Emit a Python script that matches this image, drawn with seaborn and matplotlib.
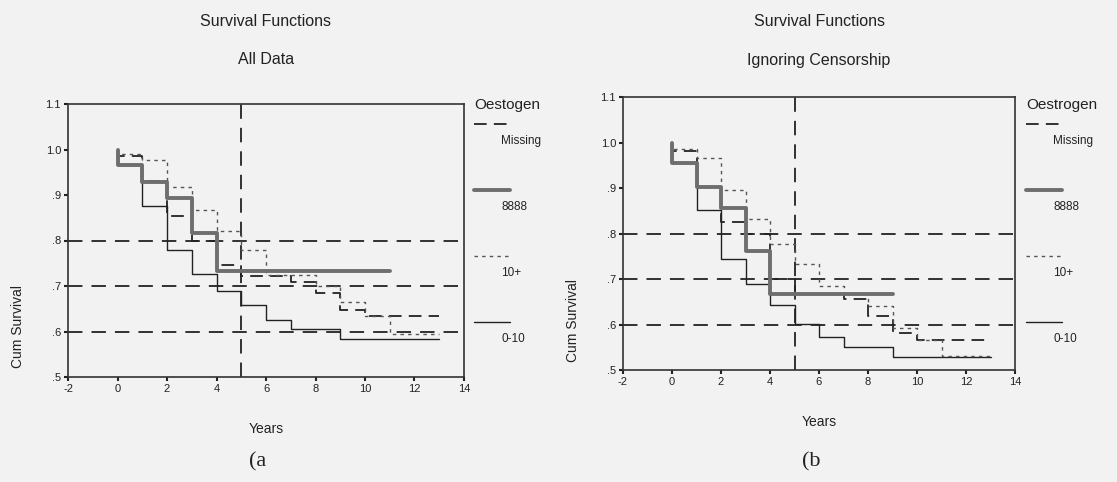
import matplotlib
matplotlib.use("Agg")
import matplotlib.pyplot as plt
import seaborn as sns
import pandas as pd
from matplotlib.lines import Line2D

# ---------------- data ----------------
groups = ["Missing", "8888", "10+", "0-10"]

# Panel (a): All Data
a_missing_t = [0, 0, 1, 2, 3, 4, 5, 7, 8, 9, 10, 13]
a_missing_s = [1.0, .985, .93, .854, .80, .747, .721, .709, .685, .648, .633, .633]
a_8888_t = [0, 0, 1, 2, 3, 4, 11]
a_8888_s = [1.0, .967, .928, .894, .817, .733, .733]
a_10p_t = [0, 0, 1, 2, 3, 4, 5, 6, 8, 9, 10, 11, 13]
a_10p_s = [1.0, .99, .977, .917, .866, .82, .78, .724, .70, .664, .634, .595, .595]
a_010_t = [0, 0, 1, 2, 3, 4, 5, 6, 7, 9, 13]
a_010_s = [1.0, .967, .876, .78, .727, .688, .659, .626, .606, .584, .584]

# Panel (b): Ignoring Censorship
b_missing_t = [0, 0, 1, 2, 3, 4, 5, 7, 8, 9, 10, 13]
b_missing_s = [1.0, .982, .902, .826, .80, .70, .667, .655, .619, .581, .567, .567]
b_8888_t = [0, 0, 1, 2, 3, 4, 9]
b_8888_s = [1.0, .954, .902, .855, .762, .667, .667]
b_10p_t = [0, 0, 1, 2, 3, 4, 5, 6, 7, 8, 9, 10, 11, 13]
b_10p_s = [1.0, .985, .967, .895, .831, .776, .732, .685, .668, .641, .592, .567, .530, .530]
b_010_t = [0, 0, 1, 2, 3, 4, 5, 6, 7, 9, 13]
b_010_s = [1.0, .954, .852, .745, .688, .643, .602, .572, .551, .529, .529]

ref_levels = [0.8, 0.7, 0.6]
ref_year = 5
x_ticks = [-2, 0, 2, 4, 6, 8, 10, 12, 14]
y_ticks = [.5, .6, .7, .8, .9, 1.0, 1.1]
y_tick_labels = [".5", ".6", ".7", ".8", ".9", "1.0", "1.1"]

# ---------------- style ----------------
sns.set_theme(style="white")
plt.rcParams['font.family'] = ['Liberation Sans', 'DejaVu Sans']
BG = "#f2f2f2"

styles = {
    "Missing": dict(color="#222222", lw=1.3, ls=(0, (7, 4))),
    "8888": dict(color="#6e6e6e", lw=2.8, ls="-"),
    "10+": dict(color="#555555", lw=1.0, ls=(0, (2.5, 3))),
    "0-10": dict(color="#222222", lw=1.0, ls="-"),
}

fig = plt.figure(figsize=(11.17, 4.82), dpi=100, facecolor=BG)
W, H = 1117, 482


def px_axes(left, top, right, bottom):
    return fig.add_axes([left / W, 1 - bottom / H, (right - left) / W, (bottom - top) / H])


panels = [
    dict(box=(68, 104, 464, 377), title="Survival Functions", sub="All Data",
         legend_title="Oestogen", leg_x=474, letter="(a",
         series=[(a_missing_t, a_missing_s), (a_8888_t, a_8888_s),
                 (a_10p_t, a_10p_s), (a_010_t, a_010_s)]),
    dict(box=(623, 97, 1015, 370), title="Survival Functions", sub="Ignoring Censorship",
         legend_title="Oestrogen", leg_x=1026, letter="(b",
         series=[(b_missing_t, b_missing_s), (b_8888_t, b_8888_s),
                 (b_10p_t, b_10p_s), (b_010_t, b_010_s)]),
]

for p in panels:
    l, t, r, b = p["box"]
    ax = px_axes(l, t, r, b)
    ax.set_facecolor(BG)
    draw_order = [0, 3, 2, 1]
    for i in draw_order:
        g = groups[i]
        tt, ss = p["series"][i]
        st = styles[g]
        df = pd.DataFrame({"Years": tt, "Survival": ss})
        sns.lineplot(data=df, x="Years", y="Survival", ax=ax, estimator=None, sort=False,
                     drawstyle="steps-post", color=st["color"], linewidth=st["lw"],
                     linestyle=st["ls"], zorder=3 + (1 if g == "8888" else 0))
    for lv in ref_levels:
        ax.axhline(lv, color="#222222", lw=1.3, ls=(0, (8, 5)), zorder=2)
    ax.axvline(ref_year, color="#222222", lw=1.3, ls=(0, (8, 5)), zorder=2)

    ax.set_xlim(-2, 14)
    ax.set_ylim(.5, 1.1)
    ax.set_xticks(x_ticks)
    ax.set_xticklabels([str(v) for v in x_ticks])
    ax.set_yticks(y_ticks)
    ax.set_yticklabels(y_tick_labels)
    ax.tick_params(axis="both", labelsize=8, length=3, width=1.5, direction="out",
                   colors="#222222", pad=2, bottom=True, left=True)
    for sp in ax.spines.values():
        sp.set_visible(True)
        sp.set_color("#333333")
        sp.set_linewidth(1.2)
    ax.set_xlabel("")
    ax.set_ylabel("")

    cx = (l + r) / 2
    fig.text(cx / W, 1 - 21 / H, p["title"], ha="center", va="center", fontsize=11.5, color="#222222")
    fig.text(cx / W, 1 - 60 / H, p["sub"], ha="center", va="center", fontsize=11.5, color="#222222")
    fig.text((l - 50) / W, 1 - (b - 50) / H, "Cum Survival", rotation=90, ha="center",
             va="center", fontsize=10, color="#222222")
    fig.text(cx / W, 1 - (b + 52) / H, "Years", ha="center", va="center", fontsize=10, color="#222222")
    fig.text((cx - 8) / W, 1 - 462 / H, p["letter"], ha="center", va="center", fontsize=16,
             family="Liberation Serif", color="#222222")

    # legend
    lx = p["leg_x"]
    fig.text(lx / W, 1 - 105 / H, p["legend_title"], ha="left", va="center", fontsize=11, color="#222222")
    for k, g in enumerate(groups):
        ly = 124 + k * 66
        st = styles[g]
        fig.add_artist(Line2D([lx / W, (lx + 36) / W], [1 - ly / H, 1 - ly / H],
                              color=st["color"], lw=st["lw"], ls=st["ls"]))
        fig.text((lx + 27) / W, 1 - (ly + 17) / H, g, ha="left", va="center",
                 fontsize=8.5, color="#222222")

fig.savefig("out.png", dpi=100, facecolor=BG)
